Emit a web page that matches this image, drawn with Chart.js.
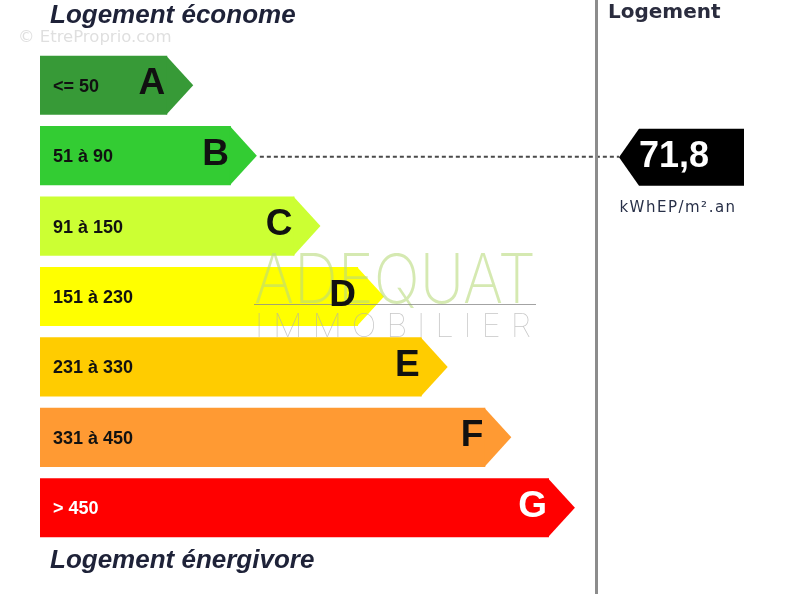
<!DOCTYPE html>
<html>
<head>
<meta charset="utf-8">
<script src="https://cdn.jsdelivr.net/npm/chart.js@4.4.1/dist/chart.umd.min.js"></script>
<style>
  html, body { margin: 0; padding: 0; background: #fff; }
  #wrap { width: 789px; height: 594px; position: relative; }
</style>
</head>
<body>
<div id="wrap"><canvas id="dpe" width="789" height="594"></canvas></div>
<script>
// classes énergie et plages (kWhEP/m².an)
const classes = ["A", "B", "C", "D", "E", "F", "G"];
const plages = ["<= 50", "51 à 90", "91 à 150", "151 à 230", "231 à 330", "331 à 450", "> 450"];
const bornesMax = [50, 90, 150, 230, 330, 450, Infinity];
// longueur relative de chaque étiquette
const longueurs = [2, 3, 4, 5, 6, 7, 8];
const couleurs = ["#379a37", "#33cc33", "#ccff33", "#ffff00", "#ffcc00", "#ff9a33", "#ff0000"];
const consommation = 71.8;

function classeDuLogement(valeur) {
    return bornesMax.findIndex((b) => valeur <= b);
}

const FLECHE = 26;

// texte étiré pour tenir dans une largeur donnée
function texteLargeur(ctx, texte, x, y, largeur) {
    const w = ctx.measureText(texte).width;
    ctx.save();
    ctx.translate(x, y);
    ctx.scale(largeur / w, 1);
    ctx.fillText(texte, 0, 0);
    ctx.restore();
}

const pluginEtiquettes = {
    id: "etiquettes",
    afterDatasetsDraw(chart) {
        const ctx = chart.ctx;
        const meta = chart.getDatasetMeta(0);
        ctx.save();
        // pointes des flèches
        meta.data.forEach((bar, i) => {
            const h = bar.height;
            ctx.fillStyle = couleurs[i];
            ctx.beginPath();
            ctx.moveTo(bar.x - 1, bar.y - h / 2);
            ctx.lineTo(bar.x + FLECHE, bar.y);
            ctx.lineTo(bar.x - 1, bar.y + h / 2);
            ctx.closePath();
            ctx.fill();
        });

        // filigrane ADEQUAT
        ctx.textAlign = "left";
        ctx.textBaseline = "alphabetic";
        ctx.fillStyle = "rgba(185, 218, 125, 0.6)";
        ctx.font = "200 68px Inter";
        texteLargeur(ctx, "ADEQUAT", 254, 303, 282);
        ctx.strokeStyle = "rgba(140,140,140,0.8)";
        ctx.lineWidth = 1;
        ctx.beginPath();
        ctx.moveTo(254, 304.5);
        ctx.lineTo(536, 304.5);
        ctx.stroke();
        ctx.fillStyle = "rgba(175,175,175,0.7)";
        ctx.font = "100 33px Inter";
        const mot = "IMMOBILIER";
        const wMot = ctx.measureText(mot).width;
        ctx.letterSpacing = ((276 - wMot) / (mot.length - 1)).toFixed(2) + "px";
        ctx.fillText(mot, 255, 337);
        ctx.letterSpacing = "0px";

        // textes des étiquettes
        meta.data.forEach((bar, i) => {
            const blanc = i === classes.length - 1;
            ctx.fillStyle = blanc ? "#ffffff" : "#111111";
            ctx.textAlign = "left";
            ctx.font = "bold 18px 'Liberation Sans'";
            ctx.fillText(plages[i], bar.base + 13, bar.y + 6.5);
            ctx.textAlign = "right";
            ctx.font = "bold 37px 'Liberation Sans'";
            ctx.fillText(classes[i], bar.x - 2, bar.y + 9);
        });

        // ligne pointillée vers la valeur du logement
        const k = classeDuLogement(consommation);
        const cible = meta.data[k];
        const xMarque = 619;
        ctx.strokeStyle = "#4a4a4a";
        ctx.lineWidth = 2;
        ctx.setLineDash([4, 3]);
        ctx.beginPath();
        ctx.moveTo(cible.x + FLECHE + 3, cible.y + 1);
        ctx.lineTo(xMarque, cible.y + 1);
        ctx.stroke();
        ctx.setLineDash([]);

        // séparateur vertical
        ctx.fillStyle = "#8c8c8c";
        ctx.fillRect(chart.chartArea.right - 1, 0, 3, chart.height);

        // marqueur noir
        const hM = 57;
        const yM = cible.y + 1.5;
        ctx.fillStyle = "#000000";
        ctx.beginPath();
        ctx.moveTo(xMarque, yM);
        ctx.lineTo(xMarque + 20, yM - hM / 2);
        ctx.lineTo(744, yM - hM / 2);
        ctx.lineTo(744, yM + hM / 2);
        ctx.lineTo(xMarque + 20, yM + hM / 2);
        ctx.closePath();
        ctx.fill();
        ctx.fillStyle = "#ffffff";
        ctx.textAlign = "center";
        ctx.font = "bold 36px 'Liberation Sans'";
        ctx.fillText(consommation.toString().replace(".", ","), 674, 167);
        ctx.fillStyle = "#283048";
        ctx.font = "15px 'DejaVu Sans'";
        ctx.letterSpacing = "1.5px";
        ctx.fillText("kWhEP/m².an", 678, 212);
        ctx.letterSpacing = "0px";

        // titres
        ctx.textAlign = "left";
        ctx.fillStyle = "#1e2238";
        ctx.font = "italic bold 26px 'Liberation Sans'";
        ctx.fillText("Logement économe", 50, 23);
        ctx.fillText("Logement énergivore", 50, 568);
        ctx.font = "bold 20px 'DejaVu Sans'";
        ctx.fillStyle = "#2a2c3e";
        ctx.fillText("Logement", 608, 17.5);

        // filigrane du site
        ctx.fillStyle = "rgba(215,215,215,0.8)";
        ctx.font = "16.5px 'DejaVu Sans'";
        ctx.fillText("© EtreProprio.com", 18, 42);
        ctx.restore();
    }
};

const config = {
    type: "bar",
    data: {
        labels: classes,
        datasets: [
            {
                data: longueurs,
                backgroundColor: couleurs,
                borderWidth: 0,
                categoryPercentage: 1,
                barPercentage: 0.84
            }
        ]
    },
    options: {
        indexAxis: "y",
        responsive: false,
        animation: false,
        events: [],
        layout: { padding: { left: 40, right: 193, top: 50, bottom: 51 } },
        plugins: { legend: { display: false }, tooltip: { enabled: false } },
        scales: {
            x: { display: false, min: 0, max: 8.74 },
            y: { display: false }
        }
    },
    plugins: [pluginEtiquettes]
};

new Chart(document.getElementById("dpe"), config);
</script>
</body>
</html>
